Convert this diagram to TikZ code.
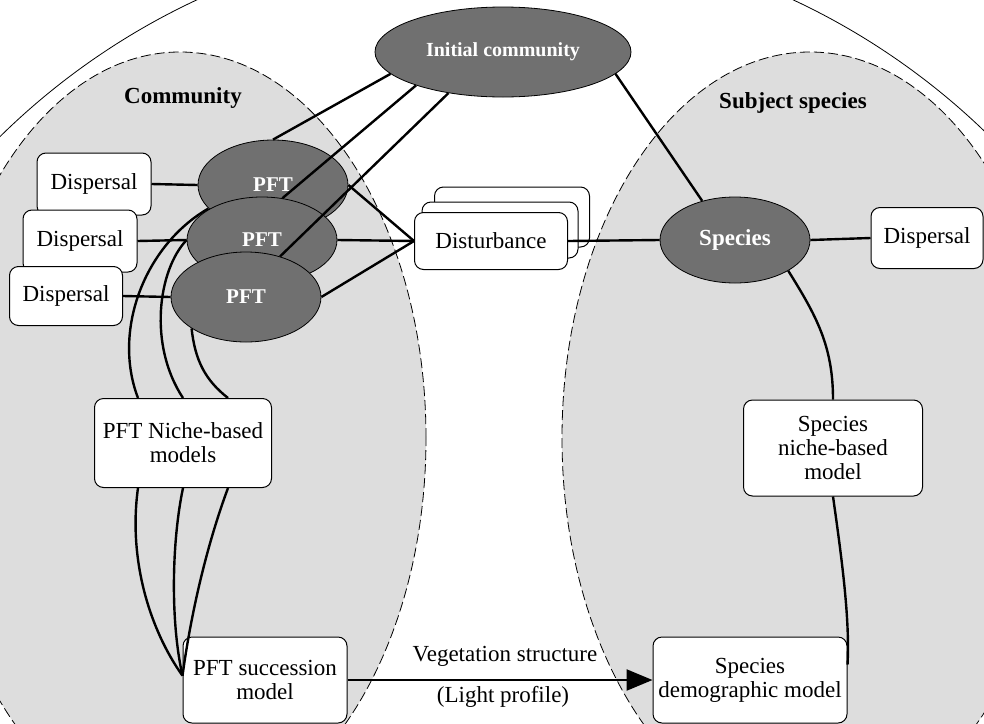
\documentclass[tikz,border=0pt]{standalone}
\usepackage{fontspec}
\setmainfont{Liberation Serif}
\usetikzlibrary{shapes.geometric,arrows.meta}
\definecolor{lightfill}{RGB}{221,221,221}
\definecolor{darkfill}{RGB}{112,112,112}
\begin{document}
\begin{tikzpicture}[x=1pt,y=-1pt,
  conn/.style={line width=2.4pt},
  box/.style={draw, line width=1pt, fill=white, rounded corners=9pt, inner sep=0pt, align=center, font=\fontsize{23}{24}\selectfont},
  oval/.style={ellipse, draw, line width=0.8pt, fill=darkfill, inner sep=0pt, text=white, font=\bfseries\fontsize{23}{24}\selectfont},
  zone/.style={draw, dash pattern=on 10pt off 4pt, line width=0.8pt, fill=lightfill},
  grouplabel/.style={font=\bfseries\fontsize{23}{24}\selectfont},
  plainlabel/.style={font=\fontsize{23}{24}\selectfont}]
\useasboundingbox (0,0) rectangle (984,723);
\clip (0,0) rectangle (984,723);
\fill[white] (0,0) rectangle (984,723);
% outer circle and the two regions
\draw[line width=0.8pt] (495,640) circle[radius=706pt];
\draw[zone] (180,438) ellipse[x radius=246pt, y radius=386pt];
\draw[zone] (810,438) ellipse[x radius=248pt, y radius=386pt];
\node[grouplabel] (lcomm) at (183,98) {Community};
\node[grouplabel] (lsubj) at (793,103) {Subject species};
% ovals
\node[oval, minimum width=256pt, minimum height=90pt, font=\bfseries\fontsize{20}{24}\selectfont] (init) at (503,52) {Initial community};
\node[oval, minimum width=150pt, minimum height=90pt, font=\bfseries\fontsize{21}{24}\selectfont] (pft1) at (273,185) {PFT};
\node[oval, minimum width=150pt, minimum height=86pt, font=\bfseries\fontsize{21}{24}\selectfont] (pft2) at (262,240) {PFT};
\node[oval, minimum width=150pt, minimum height=90pt, font=\bfseries\fontsize{21}{24}\selectfont] (pft3) at (246,297) {PFT};
\node[oval, minimum width=150pt, minimum height=86pt] (spec) at (735,240) {Species};
% boxes
\node[box, minimum width=114pt, minimum height=62pt] (d1) at (94,184) {Dispersal};
\node[box, minimum width=114pt, minimum height=62pt] (d2) at (80,241) {Dispersal};
\node[box, minimum width=113pt, minimum height=59pt] (d3) at (66,296) {Dispersal};
\node[box, minimum width=155pt, minimum height=60pt] (dist3) at (512,217) {};
\node[box, minimum width=156pt, minimum height=56pt] (dist2) at (500,230) {};
\node[box, minimum width=153pt, minimum height=57pt] (dist1) at (491,241) {Disturbance};
\node[box, minimum width=112pt, minimum height=61pt] (sdisp) at (927,238) {Dispersal};
\node[box, minimum width=177pt, minimum height=89pt] (pniche) at (183,443) {PFT Niche-based\\models};
\node[box, minimum width=164pt, minimum height=86pt] (psucc) at (265,680) {PFT succession\\model};
\node[box, minimum width=179pt, minimum height=96pt] (sniche) at (833,448) {Species\\niche-based\\model};
\node[box, minimum width=194pt, minimum height=86pt] (sdemo) at (750,680) {Species\\demographic model};
\node[plainlabel] (lveg) at (505,656) {Vegetation structure};
\node[plainlabel] (llight) at (503,697) {(Light profile)};
% connectors
\draw[conn] (d1.east) -- (pft1.west);
\draw[conn] (d2.east) -- (pft2.west);
\draw[conn] (d3.east) -- (pft3.west);
\draw[conn] (init.191) -- (pft1.north);
\draw[conn] (init.201) -- (pft2.64);
\draw[conn] (init.217) -- (pft3.50);
\draw[conn] (init.-11) -- (spec.130);
\draw[conn] (pft1.east) -- (dist1.west);
\draw[conn] (pft2.east) -- (dist1.west);
\draw[conn] (pft3.east) -- (dist1.west);
\draw[conn] (dist1.east) -- (spec.west);
\draw[conn] (spec.east) -- (sdisp.west);
\draw[conn] (spec.-30) to[out=-58,in=90] (sniche.north);
\draw[conn] (sniche.south) .. controls (842,560) and (850,620) .. (sdemo.9);
\draw[conn] (pft1.200) .. controls (145,245) and (112,330) .. (pniche.135);
\draw[conn] (pft2.west) .. controls (158,270) and (148,345) .. (pniche.north);
\draw[conn] (pft3.210) .. controls (195,360) and (205,380) .. (pniche.45);
\draw[conn] (pniche.-135) .. controls (128,560) and (150,630) .. (psucc.177);
\draw[conn] (pniche.south) .. controls (172,540) and (170,620) .. (psucc.177);
\draw[conn] (pniche.-45) .. controls (205,550) and (190,620) .. (psucc.177);
\draw[line width=2.4pt, -{Triangle[length=26pt,width=21pt]}] (psucc.east) -- (sdemo.west);
\end{tikzpicture}
\end{document}
